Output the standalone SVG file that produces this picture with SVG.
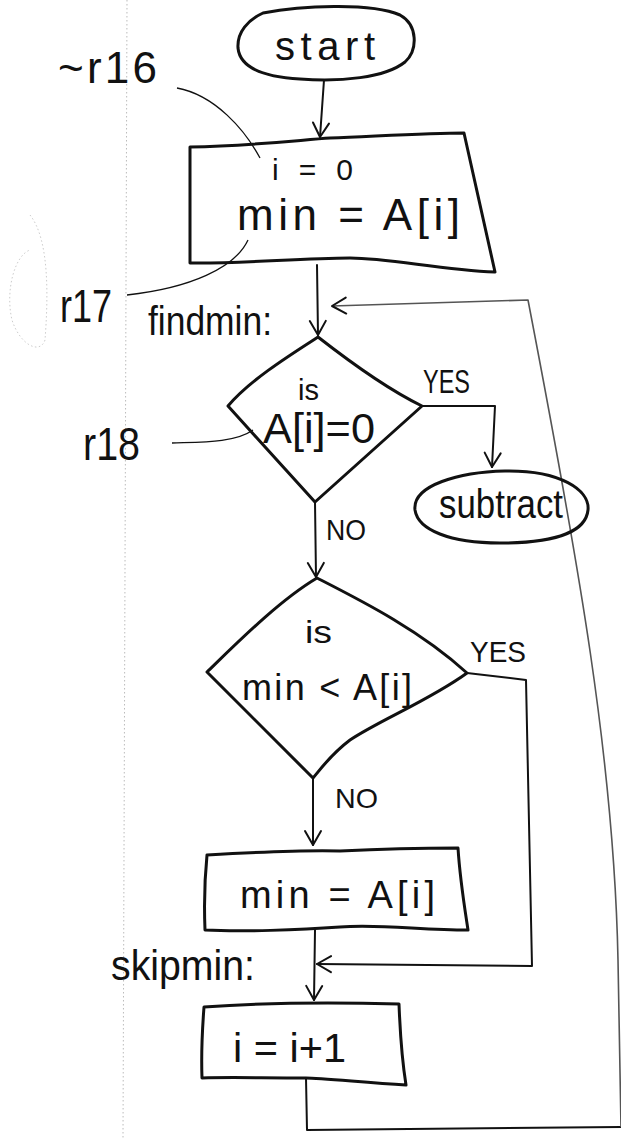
<svg xmlns="http://www.w3.org/2000/svg" width="621" height="1138" viewBox="0 0 621 1138">
<style>
.sh{fill:none;stroke:#111;stroke-width:3;stroke-linejoin:round;stroke-linecap:round}
.cn{fill:none;stroke:#111;stroke-width:2;stroke-linejoin:round;stroke-linecap:round}
.lp{fill:none;stroke:#555;stroke-width:1.6;stroke-linejoin:round}
.ld{fill:none;stroke:#111;stroke-width:1.3}
.t{font-family:"Liberation Sans",Arial,sans-serif;fill:#111}
</style>
<defs>
<marker id="arr" viewBox="0 0 20 20" refX="18" refY="10" markerWidth="20" markerHeight="20" markerUnits="userSpaceOnUse" orient="auto">
<path d="M4,2 L18,10 L4,18" fill="none" stroke="#111" stroke-width="2" stroke-linecap="round" stroke-linejoin="round"/>
</marker>
</defs>
<rect width="621" height="1138" fill="#fff"/>
<path d="M127,0 L123,1138" stroke="#bbb" stroke-width="1" stroke-dasharray="1.5,2.5" fill="none"/>
<path d="M30,215 C50,240 48,300 45,340 C40,355 20,345 12,320 C5,290 15,255 30,250" stroke="#ccc" stroke-width="1" stroke-dasharray="1.5,2.5" fill="none"/>

<g id="connectors">
<path class="cn" d="M324,80 L320,137" marker-end="url(#arr)"/>
<path class="cn" d="M317,265 L318,335" marker-end="url(#arr)"/>
<path class="cn" d="M306,1078 L307,1130 L621,1127"/>
<path class="lp" d="M621,1127 L618,960 C614,760 578,560 528,300 L332,306" marker-end="url(#arr)"/>
<path class="cn" d="M422,406 L495,406 L492,467" marker-end="url(#arr)"/>
<path class="cn" d="M315,502 L316,577" marker-end="url(#arr)"/>
<path class="cn" d="M467,673 L526,680 L532,966 L317,964" marker-end="url(#arr)"/>
<path class="cn" d="M313,778 L313,845" marker-end="url(#arr)"/>
<path class="cn" d="M315,930 L314,1000" marker-end="url(#arr)"/>
<path class="ld" d="M177,88 C215,95 245,130 260,158"/>
<path class="ld" d="M248,240 C235,268 190,288 127,295"/>
<path class="ld" d="M172,443 C200,442 235,443 253,430"/>
</g>

<g id="start">
<path class="sh" d="M263,13 C300,6 370,2 400,15 C418,25 418,50 405,62 C385,78 340,82 300,79 C265,77 240,68 238,48 C237,32 248,20 263,13 Z"/>
<text class="t" x="275" y="60" font-size="40" textLength="100" lengthAdjust="spacing">start</text>
</g>

<g id="init">
<path class="sh" d="M190,147 C250,146 300,140 330,138 C380,136 430,133 464,133 L495,272 C440,270 390,258 350,258 C300,258 240,264 190,263 Z"/>
<text class="t" x="272" y="180" font-size="30" textLength="81" lengthAdjust="spacing">i = 0</text>
<text class="t" x="237" y="230" font-size="44" textLength="223" lengthAdjust="spacing">min = A[i]</text>
</g>

<g id="label-r16"><text class="t" x="58" y="83" font-size="44" textLength="99" lengthAdjust="spacing">~r16</text></g>
<g id="label-r17"><text class="t" x="60" y="322" font-size="46" textLength="52" lengthAdjust="spacingAndGlyphs">r17</text></g>
<g id="label-r18"><text class="t" x="83" y="460" font-size="46" textLength="57" lengthAdjust="spacingAndGlyphs">r18</text></g>
<g id="label-findmin"><text class="t" x="148" y="335" font-size="40" textLength="124" lengthAdjust="spacingAndGlyphs">findmin:</text></g>

<g id="test-zero">
<path class="sh" d="M318,337 C350,362 385,388 422,406 L315,502 L228,406 C250,380 290,355 318,337 Z"/>
<text class="t" x="298" y="400" font-size="30" textLength="21" lengthAdjust="spacingAndGlyphs">is</text>
<text class="t" x="263" y="443" font-size="42" textLength="112" lengthAdjust="spacingAndGlyphs">A[i]=0</text>
<text class="t" x="423" y="393" font-size="34" textLength="47" lengthAdjust="spacingAndGlyphs">YES</text>
<text class="t" x="326" y="540" font-size="30" textLength="40" lengthAdjust="spacingAndGlyphs">NO</text>
</g>

<g id="subtract">
<path class="sh" d="M415,510 C412,485 460,472 505,471 C560,470 590,490 588,510 C586,530 560,543 500,543 C450,543 418,530 415,510 Z"/>
<text class="t" x="439" y="518" font-size="40" textLength="124" lengthAdjust="spacingAndGlyphs">subtract</text>
</g>

<g id="test-min">
<path class="sh" d="M317,578 C360,600 420,630 467,673 C430,700 380,720 350,740 C330,755 320,770 313,778 L207,672 C240,640 280,600 317,578 Z"/>
<text class="t" x="305" y="643" font-size="32" textLength="27" lengthAdjust="spacingAndGlyphs">is</text>
<text class="t" x="242" y="700" font-size="36" textLength="170" lengthAdjust="spacing">min &lt; A[i]</text>
<text class="t" x="470" y="662" font-size="30" textLength="56" lengthAdjust="spacingAndGlyphs">YES</text>
<text class="t" x="335" y="808" font-size="28" textLength="43" lengthAdjust="spacingAndGlyphs">NO</text>
</g>

<g id="set-min">
<path class="sh" d="M207,855 C260,852 310,850 340,851 C380,849 430,848 458,848 C460,880 465,910 468,930 C420,930 380,924 340,927 C300,930 240,932 205,930 C204,905 205,875 207,855 Z"/>
<text class="t" x="240" y="908" font-size="38" textLength="195" lengthAdjust="spacing">min = A[i]</text>
</g>

<g id="label-skipmin"><text class="t" x="111" y="980" font-size="42" textLength="144" lengthAdjust="spacingAndGlyphs">skipmin:</text></g>

<g id="increment">
<path class="sh" d="M204,1007 C260,1003 330,1002 399,1004 C400,1030 402,1060 406,1085 C360,1082 320,1078 306,1078 C260,1078 230,1077 202,1078 C201,1050 203,1020 204,1007 Z"/>
<text class="t" x="233" y="1062" font-size="40" textLength="113" lengthAdjust="spacingAndGlyphs">i = i+1</text>
</g>
</svg>
